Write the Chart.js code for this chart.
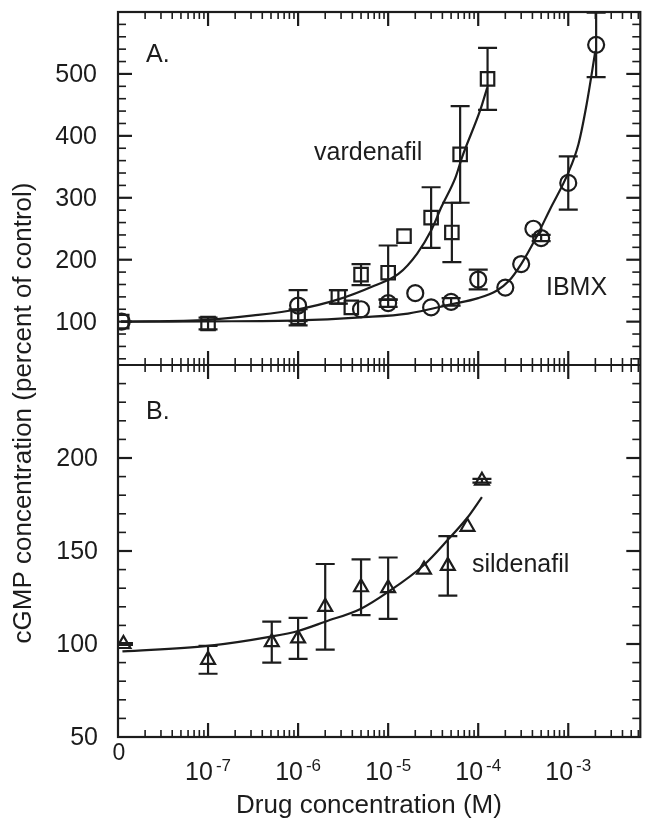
<!DOCTYPE html>
<html>
<head>
<meta charset="utf-8">
<script src="https://cdn.jsdelivr.net/npm/chart.js@4.4.0/dist/chart.umd.min.js"></script>
<style>
  html, body { margin: 0; padding: 0; background: #fff; }
  canvas { display: block; }
</style>
</head>
<body>
<canvas id="c" width="652" height="820"></canvas>
<script>
const ink = '#1c1c1c';
const face = '"Liberation Sans", Arial, Helvetica, sans-serif';

// x axis: log scale, "0" (control) drawn at the left edge 1e-8
const xMin = 1e-8;
const xMax = Math.pow(10, -2.2);
const xDecades = [-7, -6, -5, -4, -3];

// panel ranges and tick labels
const panelA = [30, 600];
const panelB = [50, 250];
const yTicksA = [100, 200, 300, 400, 500];
const yTicksB = [50, 100, 150, 200];

// panel A: vardenafil (squares)
const vardX = [1.1e-8, 1e-7, 1e-6, 2.8e-6, 3.9e-6, 5e-6, 1e-5, 1.5e-5, 3e-5, 5.1e-5, 6.3e-5, 1.27e-4];
const vardY = [100, 97, 107, 140, 123, 176, 179, 238, 268, 244, 370, 492];
const vardErr = [0, 9.5, 13, 11, 0, 17, 44, 0, 49, 48, 78, 50];

// panel A: IBMX (circles)
const ibmxX = [1.1e-8, 1e-6, 5e-6, 1e-5, 2e-5, 3e-5, 5e-5, 1e-4, 2e-4, 3e-4, 4.1e-4, 5e-4, 1e-3, 2.04e-3];
const ibmxY = [100, 126, 120, 130, 146, 123, 132, 168, 155, 193, 250, 235, 324, 547];
const ibmxErr = [0, 25, 0, 6, 0, 0, 6, 16, 0, 0, 0, 5, 43, 52];

// panel B: sildenafil (triangles)
const sildX = [1.15e-8, 1e-7, 5.1e-7, 1e-6, 2e-6, 5e-6, 1e-5, 2.5e-5, 4.6e-5, 7.6e-5, 1.1e-4];
const sildY = [100, 91.5, 101, 103, 120, 130.5, 130, 140, 142, 163, 187.8];
const sildErr = [0.5, 7.5, 11, 11, 23, 15, 16.5, 0, 16, 0, 1];

// fitted curves
const vardFitX = [1.08e-8, 1e-7, 3.2e-7, 1e-6, 2.8e-6, 7e-6, 1.3e-5, 2.1e-5, 3e-5, 3.9e-5, 5.6e-5, 6.6e-5, 1.05e-4, 1.26e-4];
const vardFitY = [100, 103, 110, 120, 136, 158, 177, 210, 247, 285, 333, 365, 441, 478];
const ibmxFitX = [1.08e-8, 1e-7, 1e-6, 5e-6, 1.66e-5, 5e-5, 1e-4, 1.6e-4, 2.2e-4, 3e-4, 4.4e-4, 6.3e-4, 9.9e-4, 1.3e-3, 1.6e-3, 2.0e-3];
const ibmxFitY = [100, 100.5, 102, 107, 113, 128, 138, 150, 166, 193, 236, 282, 339, 387, 451, 537];
const sildFitX = [1.12e-8, 1e-7, 5e-7, 1e-6, 2e-6, 5e-6, 1e-5, 2.5e-5, 4.6e-5, 7.6e-5, 1.1e-4];
const sildFitY = [96, 99, 104, 107, 112, 119, 128, 142.5, 156, 168, 179];

// share of the plot height taken by panel A
const fracA = 353 / 725;

function pairs(xs, ys) {
  return xs.map((x, i) => ({ x: x, y: ys[i] }));
}

function line(ctx, x1, y1, x2, y2) {
  ctx.beginPath();
  ctx.moveTo(x1, y1);
  ctx.lineTo(x2, y2);
  ctx.stroke();
}

const errorBars = {
  id: 'errorBars',
  afterDatasetsDraw(chart) {
    const { ctx, chartArea: a, scales } = chart;
    const sets = [
      [vardX, vardY, vardErr, scales.yA],
      [ibmxX, ibmxY, ibmxErr, scales.yA],
      [sildX, sildY, sildErr, scales.yB]
    ];
    ctx.save();
    ctx.beginPath();
    ctx.rect(a.left, a.top, a.right - a.left, a.bottom - a.top);
    ctx.clip();
    ctx.strokeStyle = ink;
    ctx.lineWidth = 2.2;
    sets.forEach(([xs, ys, es, ys_]) => {
      xs.forEach((xv, i) => {
        if (!es[i]) return;
        const px = scales.x.getPixelForValue(xv);
        const top = ys_.getPixelForValue(ys[i] + es[i]);
        const bot = ys_.getPixelForValue(ys[i] - es[i]);
        line(ctx, px, top, px, bot);
        line(ctx, px - 9.5, top, px + 9.5, top);
        line(ctx, px - 9.5, bot, px + 9.5, bot);
      });
    });
    ctx.restore();
  }
};

const frame = {
  id: 'frame',
  afterDraw(chart) {
    const { ctx, chartArea: a, scales } = chart;
    const sx = scales.x, ya = scales.yA, yb = scales.yB;
    const mid = ya.getPixelForValue(panelA[0]);
    ctx.save();
    ctx.strokeStyle = ink;
    ctx.fillStyle = ink;
    ctx.lineWidth = 2.2;
    ctx.strokeRect(a.left, a.top, a.right - a.left, a.bottom - a.top);
    line(ctx, a.left, mid, a.right, mid);

    // x ticks: bottom, top, and across the divider
    for (let k = -8; k <= -3; k++) {
      for (let m = 1; m <= 9; m++) {
        const v = m * Math.pow(10, k);
        if (v <= xMin * 1.001 || v > xMax) continue;
        const px = sx.getPixelForValue(v);
        const len = m === 1 ? 14 : 7;
        ctx.lineWidth = m === 1 ? 2.2 : 1.6;
        line(ctx, px, a.bottom, px, a.bottom - len);
        line(ctx, px, a.top, px, a.top + len);
        line(ctx, px, mid - len, px, mid + len);
      }
    }

    // y ticks
    const yTick = (scale, v, major) => {
      const py = scale.getPixelForValue(v);
      const len = major ? 14 : 8;
      ctx.lineWidth = major ? 2.2 : 1.6;
      line(ctx, a.left, py, a.left + len, py);
      line(ctx, a.right, py, a.right - len, py);
    };
    for (let v = 40; v < panelA[1]; v += 20) yTick(ya, v, v % 100 === 0);
    for (let v = 60; v < panelB[1]; v += 10) yTick(yb, v, v % 50 === 0);

    // y tick labels
    ctx.font = '25px ' + face;
    ctx.textAlign = 'right';
    ctx.textBaseline = 'middle';
    yTicksA.forEach(v => ctx.fillText(String(v), 97, ya.getPixelForValue(v) + 1));
    yTicksB.forEach(v => ctx.fillText(String(v), 98, yb.getPixelForValue(v) + 1));

    // x tick labels
    ctx.textBaseline = 'alphabetic';
    ctx.textAlign = 'center';
    ctx.font = '23px ' + face;
    ctx.fillText('0', sx.getPixelForValue(xMin) + 1, 760);
    ctx.textAlign = 'left';
    xDecades.forEach(k => {
      const px = sx.getPixelForValue(Math.pow(10, k));
      ctx.font = '25px ' + face;
      const wb = ctx.measureText('10').width;
      ctx.font = '17px ' + face;
      const sup = '-' + Math.abs(k);
      const ws = ctx.measureText(sup).width;
      const x0 = px - (wb + 3 + ws) / 2;
      ctx.font = '25px ' + face;
      ctx.fillText('10', x0, 780);
      ctx.font = '17px ' + face;
      ctx.fillText(sup, x0 + wb + 3, 771);
    });

    // axis titles
    ctx.font = '26px ' + face;
    ctx.textAlign = 'center';
    ctx.fillText('Drug concentration (M)', 369, 813);
    ctx.save();
    ctx.translate(31, 413);
    ctx.rotate(-Math.PI / 2);
    ctx.fillText('cGMP concentration (percent of control)', 0, 0);
    ctx.restore();

    // panel letters and curve names
    ctx.textAlign = 'left';
    ctx.font = '25px ' + face;
    ctx.fillText('A.', 146, 62);
    ctx.fillText('B.', 146, 419);
    ctx.fillText('vardenafil', 314, 160);
    ctx.fillText('IBMX', 546, 295);
    ctx.fillText('sildenafil', 472, 572);
    ctx.restore();
  }
};

const fitStyle = {
  type: 'line',
  showLine: true,
  borderColor: ink,
  borderWidth: 2.2,
  pointRadius: 0,
  fill: false,
  cubicInterpolationMode: 'monotone'
};
const markStyle = {
  borderColor: ink,
  backgroundColor: 'rgba(0,0,0,0)',
  borderWidth: 2.2,
  showLine: false
};

new Chart(document.getElementById('c'), {
  type: 'scatter',
  data: {
    datasets: [
      Object.assign({ label: 'vardenafil fit', data: pairs(vardFitX, vardFitY), yAxisID: 'yA' }, fitStyle),
      Object.assign({ label: 'IBMX fit', data: pairs(ibmxFitX, ibmxFitY), yAxisID: 'yA' }, fitStyle),
      Object.assign({ label: 'sildenafil fit', data: pairs(sildFitX, sildFitY), yAxisID: 'yB' }, fitStyle),
      Object.assign({ label: 'vardenafil', data: pairs(vardX, vardY), yAxisID: 'yA', pointStyle: 'rect', pointRadius: 9.5 }, markStyle),
      Object.assign({ label: 'IBMX', data: pairs(ibmxX, ibmxY), yAxisID: 'yA', pointStyle: 'circle', pointRadius: 8 }, markStyle),
      Object.assign({ label: 'sildenafil', data: pairs(sildX, sildY), yAxisID: 'yB', pointStyle: 'triangle', pointRadius: 8 }, markStyle)
    ]
  },
  options: {
    responsive: false,
    animation: false,
    layout: { padding: { left: 118, right: 7, top: 12, bottom: 83 } },
    plugins: { legend: { display: false }, tooltip: { enabled: false } },
    scales: {
      x: { type: 'logarithmic', min: xMin, max: xMax, display: false },
      yA: {
        type: 'linear', position: 'left', display: false,
        max: panelA[1], min: panelA[1] - (panelA[1] - panelA[0]) / fracA
      },
      yB: {
        type: 'linear', position: 'left', display: false,
        min: panelB[0], max: panelB[0] + (panelB[1] - panelB[0]) / (1 - fracA)
      }
    }
  },
  plugins: [errorBars, frame]
});
</script>
</body>
</html>
